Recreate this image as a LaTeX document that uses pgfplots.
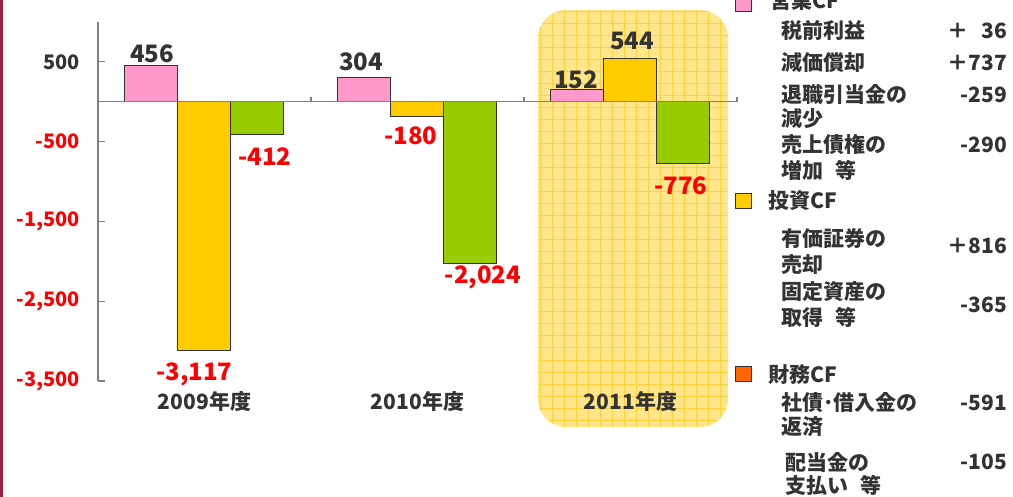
\documentclass[border=0pt]{standalone}
\usepackage{fontspec}
\setmainfont{Noto Sans CJK JP}
\usepackage{pgfplots}
\pgfplotsset{compat=1.18}
\definecolor{pinkbar}{HTML}{FF99CC}
\definecolor{yellowbar}{HTML}{FFCC00}
\definecolor{greenbar}{HTML}{99CC00}
\definecolor{orangesq}{HTML}{FF6600}
\definecolor{textgray}{HTML}{333333}
\definecolor{axisgray}{HTML}{808080}
\definecolor{boxfill}{HTML}{FFE68C}
\definecolor{gridline}{HTML}{FFD23C}
\definecolor{borderred}{HTML}{A0203C}
\definecolor{tickred}{HTML}{FF0000}
\newcommand\tickfont{\fontsize{20}{20}\selectfont\bfseries}
\newcommand\catfont{\fontsize{21}{21}\selectfont\bfseries}
\newcommand\datafont{\fontsize{24}{24}\selectfont\bfseries}
\newcommand\legfont{\fontsize{21}{21}\selectfont\bfseries}
\begin{document}
\begin{tikzpicture}
\useasboundingbox (0pt,0pt) rectangle (1013pt,-497pt);
\fill[borderred] (0pt,0pt) rectangle (2.5pt,-497pt);
% highlight box
\begin{scope}
\path[clip, rounded corners=28pt] (538pt,-10pt) rectangle (728pt,-427pt);
\fill[boxfill] (538pt,-10pt) rectangle (728pt,-427pt);
\draw[gridline, line width=1pt, step=12pt] (528pt,-432pt) grid (740pt,0pt);
\end{scope}
\begin{axis}[
  at={(98pt,-381pt)}, anchor=south west,
  scale only axis, width=639pt, height=359pt,
  xmin=-0.5, xmax=2.5, ymin=-3500, ymax=1000,
  axis x line=bottom, axis y line=left,
  x axis line style={draw=none,-},
  y axis line style={draw=axisgray, line width=1.2pt, -},
  xtick={0,1,2}, xticklabels={2009年度,2010年度,2011年度},
  x tick style={draw=none},
  xticklabel style={font=\catfont, text=textgray, inner sep=0pt, anchor=north, yshift=-7pt},
  ytick={-3500,-2500,-1500,-500,500},
  yticklabels={\textcolor{tickred}{-3,500},\textcolor{tickred}{-2,500},\textcolor{tickred}{-1,500},\textcolor{tickred}{-500},\textcolor{textgray}{500}},
  yticklabel style={font=\tickfont, inner sep=0pt, anchor=east, xshift=-18pt},
  ytick align=inside, y tick style={draw=axisgray, line width=1.2pt}, major tick length=7pt,
  clip=false,
]
\addplot[ybar, bar width=53pt, bar shift=-54pt, fill=pinkbar, draw=textgray, line width=0.9pt] coordinates {(0,456) (1,304) (2,152)};
\addplot[ybar, bar width=53pt, bar shift=-1pt, fill=yellowbar, draw=textgray, line width=0.9pt] coordinates {(0,-3117) (1,-180) (2,544)};
\addplot[ybar, bar width=53pt, bar shift=52pt, fill=greenbar, draw=textgray, line width=0.9pt] coordinates {(0,-412) (1,-2024) (2,-776)};
\draw[axisgray, line width=1.2pt] (axis cs:-0.5,0) -- (axis cs:2.5,0);
\draw[axisgray, line width=1.2pt] (axis cs:0.5,0) -- ++(0pt,5pt);
\draw[axisgray, line width=1.2pt] (axis cs:1.5,0) -- ++(0pt,5pt);
\draw[axisgray, line width=1.2pt] (axis cs:2.5,0) -- ++(0pt,5pt);
\node[font=\datafont, text=textgray] at (axis cs:-0.246,599) {456};
\node[font=\datafont, text=tickred] at (axis cs:-0.047,-3420) {-3,117};
\node[font=\datafont, text=tickred] at (axis cs:0.284,-693) {-412};
\node[font=\datafont, text=textgray] at (axis cs:0.735,499) {304};
\node[font=\datafont, text=tickred] at (axis cs:0.969,-429) {-180};
\node[font=\datafont, text=tickred] at (axis cs:1.307,-2196) {-2,024};
\node[font=\datafont, text=textgray] at (axis cs:1.744,273) {152};
\node[font=\datafont, text=textgray] at (axis cs:2.007,762) {544};
\node[font=\datafont, text=tickred] at (axis cs:2.237,-1057) {-776};
\end{axis}
% legend squares
\draw[fill=pinkbar, draw=textgray, line width=1pt] (735pt,4pt) rectangle (751pt,-12pt);
\draw[fill=yellowbar, draw=textgray, line width=1pt] (735pt,-194pt) rectangle (751pt,-209pt);
\draw[fill=orangesq, draw=textgray, line width=1pt] (735pt,-366pt) rectangle (751pt,-381pt);
\begin{scope}[every node/.style={font=\legfont, text=textgray, inner sep=0pt, anchor=west}]
\node at (770pt,-1pt) {営業CF};
\node at (781pt,-31pt) {税前利益};
\node at (781pt,-63pt) {減価償却};
\node at (781pt,-95pt) {退職引当金の};
\node at (781pt,-119pt) {減少};
\node at (781pt,-145pt) {売上債権の};
\node at (781pt,-170pt) {増加\hspace{0.6em}等};
\node at (768pt,-201pt) {投資CF};
\node at (781pt,-239pt) {有価証券の};
\node at (781pt,-265pt) {売却};
\node at (781pt,-292pt) {固定資産の};
\node at (781pt,-317pt) {取得\hspace{0.6em}等};
\node at (768pt,-375pt) {財務CF};
\node at (781pt,-403pt) {社債･借入金の};
\node at (781pt,-427pt) {返済};
\node at (785pt,-462pt) {配当金の};
\node at (785pt,-485pt) {支払い\hspace{0.6em}等};
\end{scope}
\begin{scope}[every node/.style={font=\legfont, text=textgray, inner sep=0pt, anchor=east}]
\node at (1007pt,-31pt) {＋\phantom{0}36};
\node at (1007pt,-63pt) {＋737};
\node at (1007pt,-95pt) {-259};
\node at (1007pt,-145pt) {-290};
\node at (1007pt,-246pt) {＋816};
\node at (1007pt,-305pt) {-365};
\node at (1007pt,-403pt) {-591};
\node at (1007pt,-462pt) {-105};
\end{scope}
\end{tikzpicture}
\end{document}
